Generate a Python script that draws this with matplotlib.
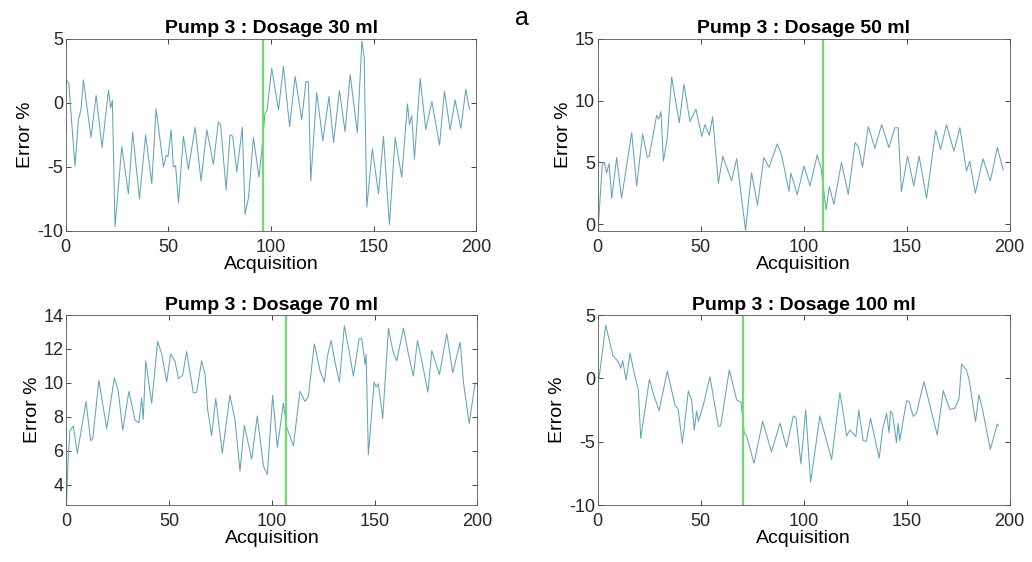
import matplotlib.pyplot as plt

plt.rcParams['font.family'] = ['Liberation Sans', 'DejaVu Sans']
plt.rcParams['axes.unicode_minus'] = False

# valores (picos y valles de cada curva)
x30 = [0.3, 1.5, 4.5, 6.2, 7.4, 8.6, 12.3, 14.8, 17.7, 20.8, 21.9, 22.7, 24.0, 27.3, 30.5, 32.6,
       35.9, 38.9, 41.9, 44.0, 47.6, 48.9, 49.8, 51.3, 52.4, 53.5, 54.9, 57.3, 59.7, 63.0, 65.9,
       68.7, 71.9, 74.3, 75.4, 78.1, 80.0, 81.3, 83.3, 86.0, 87.3, 89.0, 91.4, 94.1, 95.4, 97.0,
       98.0, 100.3, 103.6, 106.0, 109.0, 111.7, 114.9, 117.0, 118.2, 119.3, 122.2, 125.2, 128.2,
       130.4, 133.3, 136.0, 138.5, 142.0, 144.2, 145.3, 146.6, 149.3, 152.3, 154.7, 157.6, 160.4,
       163.6, 166.4, 167.4, 168.5, 169.8, 172.6, 175.3, 178.3, 182.0, 184.4, 187.2, 189.6, 192.4,
       194.8, 196.6]
y30 = [1.8, 1.5, -4.95, -1.3, -0.55, 1.8, -2.7, 0.58, -3.5, 1.0, -0.4, 0.2, -9.66, -3.4, -7.1, -2.3,
       -7.5, -2.5, -6.3, -0.47, -5.0, -4.1, -4.2, -2.1, -5.0, -4.9, -7.8, -2.6, -5.2, -1.9, -6.1,
       -2.1, -4.8, -1.5, -1.7, -6.8, -2.5, -2.6, -5.4, -1.9, -8.7, -7.4, -2.7, -5.8, -3.8, -0.8,
       -0.6, 2.7, -0.55, 2.85, -1.86, 2.07, -1.33, 1.68, 1.6, -6.1, 0.8, -2.96, 0.5,
       -3.1, 0.94, -2.25, 2.2, -2.33, 4.8, 3.6, -8.14, -3.6, -7.1, -2.6, -9.5, -2.7,
       -5.8, -0.08, -1.7, -1.0, -4.4, 1.9, -2.07, 0.1, -3.3, 0.9, -2.1, 0.24, -2.0,
       1.07, -0.5]

x50 = [0.3, 2.2, 3.2, 4.3, 5.5, 6.8, 9.2, 11.6, 16.5, 18.9, 21.8, 24.1, 25.0, 28.6, 29.6, 30.7,
       31.9, 33.8, 35.9, 39.6, 41.9, 44.8, 47.7, 50.5, 52.1, 54.2, 55.8, 58.6, 60.7, 65.0, 67.5,
       71.8, 74.7, 77.6, 80.7, 83.2, 87.2, 89.3, 92.9, 93.8, 96.9, 100.2, 103.1, 106.6, 108.5,
       110.9, 112.5, 114.7, 118.4, 121.7, 125.0, 126.6, 128.6, 131.4, 134.6, 137.9, 141.4, 144.3,
       145.9, 147.5, 150.5, 153.5, 156.1, 159.7, 162.4, 164.1, 166.5, 169.4, 173.0, 175.9, 179.1,
       180.7, 183.4, 187.1, 190.7, 194.1, 196.9]
y50 = [-0.1, 4.8, 5.0, 4.15, 4.9, 2.1, 5.4, 2.1, 7.4, 3.1, 7.3, 5.4, 5.5, 8.8, 8.5, 9.1,
       5.1, 7.0, 11.9, 8.2, 11.3, 8.3, 9.3, 7.1, 8.05, 7.2, 8.7, 3.3, 5.5, 3.5, 5.3,
       -0.5, 4.15, 1.55, 5.4, 4.6, 6.5, 5.6, 2.65, 4.15, 2.4, 4.7, 3.1, 5.6, 4.5,
       1.15, 3.05, 1.6, 5.0, 2.4, 6.6, 6.3, 4.6, 7.9, 6.15, 8.05, 6.2, 7.8,
       7.8, 2.65, 5.5, 3.1, 5.5, 2.1, 5.4, 7.6, 6.05, 8.05, 5.9, 7.8, 4.3,
       5.1, 2.5, 5.3, 3.5, 6.2, 4.4]

x70 = [0.0, 0.8, 1.7, 3.3, 5.3, 9.5, 11.8, 12.8, 15.8, 19.6, 23.3, 25.2, 27.4, 30.4, 33.4, 35.3,
       36.6, 37.4, 38.6, 41.5, 44.4, 46.4, 48.8, 50.7, 52.8, 54.5, 56.6, 58.5, 61.8, 63.4, 65.8,
       67.5, 68.8, 70.7, 72.7, 75.9, 79.6, 82.1, 84.5, 86.6, 90.2, 92.9, 95.9, 97.8, 100.4, 102.7,
       105.6, 107.2, 110.5, 113.7, 116.2, 117.8, 120.7, 123.5, 125.6, 127.1, 128.9, 130.8, 132.9,
       135.3, 137.3, 139.7, 142.5, 143.8, 145.4, 145.9, 147.0, 149.8, 150.8, 151.9, 154.0, 156.8,
       158.9, 160.8, 164.1, 166.5, 168.9, 170.9, 173.0, 176.0, 177.9, 181.6, 185.2, 188.1, 191.7,
       193.3, 196.1, 199.0]
y70 = [2.9, 5.5, 7.2, 7.45, 5.85, 8.9, 6.6, 6.7, 10.15, 7.3, 10.3, 9.56, 7.2, 9.5, 7.8, 7.65,
       9.1, 7.85, 11.3, 8.8, 12.45, 11.7, 10.05, 11.7, 11.3, 10.25, 10.45, 11.85, 9.4, 9.45, 11.3,
       10.5, 8.4, 6.9, 9.1, 5.85, 9.27, 7.8, 4.8, 7.5, 5.5, 8.05, 5.1, 4.6, 9.27, 6.2,
       8.8, 7.4, 6.3, 9.5, 8.9, 9.2, 12.3, 10.7, 10.05, 11.6, 12.5, 11.2, 10.05,
       13.37, 12.1, 10.4, 12.6, 12.6, 11.1, 11.7, 5.76, 10.05, 9.75, 9.95, 7.9, 13.23,
       11.9, 11.3, 13.23, 11.7, 10.4, 12.5, 11.3, 9.46, 11.9, 10.5, 12.9, 10.6, 12.4,
       10.05, 7.6, 10.0]

x100 = [0.6, 3.9, 5.97, 7.3, 10.0, 11.2, 12.1, 13.8, 15.7, 18.1, 19.7, 20.9, 25.1, 27.0, 29.8,
        33.8, 37.5, 39.1, 41.1, 44.0, 45.6, 46.9, 48.0, 48.9, 51.3, 54.5, 58.6, 59.7, 63.9, 67.5,
        69.6, 71.2, 72.3, 75.9, 80.1, 84.4, 88.5, 91.7, 95.0, 96.3, 98.7, 101.0, 103.4, 107.9,
        113.6, 117.6, 118.9, 120.9, 122.5, 125.4, 126.8, 128.9, 130.5, 132.5, 136.7, 138.3, 140.3,
        141.5, 142.2, 143.2, 145.1, 145.9, 146.7, 150.0, 151.3, 153.2, 154.8, 158.4, 159.7, 164.9,
        167.8, 171.0, 173.4, 175.5, 176.7, 179.1, 180.4, 183.5, 185.1, 186.7, 190.7, 194.1, 194.6]
y100 = [0.0, 4.2, 2.76, 1.84, 1.3, 0.8, 1.4, -0.13, 2.0, 0.13, -0.9, -4.74, -0.08, -1.2, -2.55,
        0.58, -2.1, -2.45, -5.13, -1.0, -1.7, -4.08, -2.58, -3.4, -2.1, 0.13, -3.8, -3.75, 0.66, -1.7,
        -1.92, -4.34, -4.55, -6.7, -3.4, -5.8, -3.55, -5.45, -2.97, -3.1, -6.76, -2.5, -8.2, -2.97,
        -6.4, -1.13, -2.37, -4.55, -4.08, -4.6, -2.5, -4.9, -4.97, -3.16, -6.3, -4.08, -2.76,
        -4.3, -2.6, -2.8, -5.08, -3.55, -4.9, -1.76, -1.84, -3.0, -2.76, -0.26, -1.05, -4.47,
        -0.97, -2.45, -2.37, -1.58, 1.13, 0.66, -0.13, -3.42, -1.3, -2.3, -5.6, -3.6, -3.76]

dosages = [30, 50, 70, 100]
switch_x = [96, 109.5, 106.8, 70.7]
ylims = [(-10, 5), (-0.55, 15), (2.8, 14), (-10, 5)]
yticks = [[-10, -5, 0, 5], [0, 5, 10, 15], [4, 6, 8, 10, 12, 14], [-10, -5, 0, 5]]
xticks = [0, 50, 100, 150, 200]

series = [(x30, y30), (x50, y50), (x70, y70), (x100, y100)]
# posiciones de los ejes en fraccion de figura
boxes = [[0.0637, 0.589, 0.398, 0.342],
         [0.5792, 0.589, 0.399, 0.342],
         [0.0644, 0.1014, 0.398, 0.338],
         [0.5792, 0.1014, 0.399, 0.338]]

fig = plt.figure(figsize=(10.32, 5.62), dpi=100)

for i in range(4):
    ax = fig.add_axes(boxes[i])
    xs, ys = series[i]
    ax.plot(xs, ys, color='#64a3bb', linewidth=0.75)
    ax.axvline(switch_x[i], color='#6fdc6f', linewidth=1.6)
    ax.set_xlim(0, 200)
    ax.set_ylim(*ylims[i])
    ax.set_xticks(xticks)
    ax.set_yticks(yticks[i])
    ax.tick_params(direction='in', top=True, right=True, length=3.5, width=0.6,
                   labelsize=13, colors='#262626')
    ax.tick_params(axis='x', pad=6)
    ax.tick_params(axis='y', pad=2)
    for s in ax.spines.values():
        s.set_color('#555555')
        s.set_linewidth(0.6)
    ax.set_title(f'Pump 3 : Dosage {dosages[i]} ml', fontsize=14, fontweight='bold', pad=4)
    ax.set_xlabel('Acquisition', fontsize=14, labelpad=0)
    ax.set_ylabel('Error %', fontsize=14, labelpad=2)

fig.text(0.506, 0.968, 'a', fontsize=18, ha='center', va='center')

plt.savefig('out.png', dpi=100)
